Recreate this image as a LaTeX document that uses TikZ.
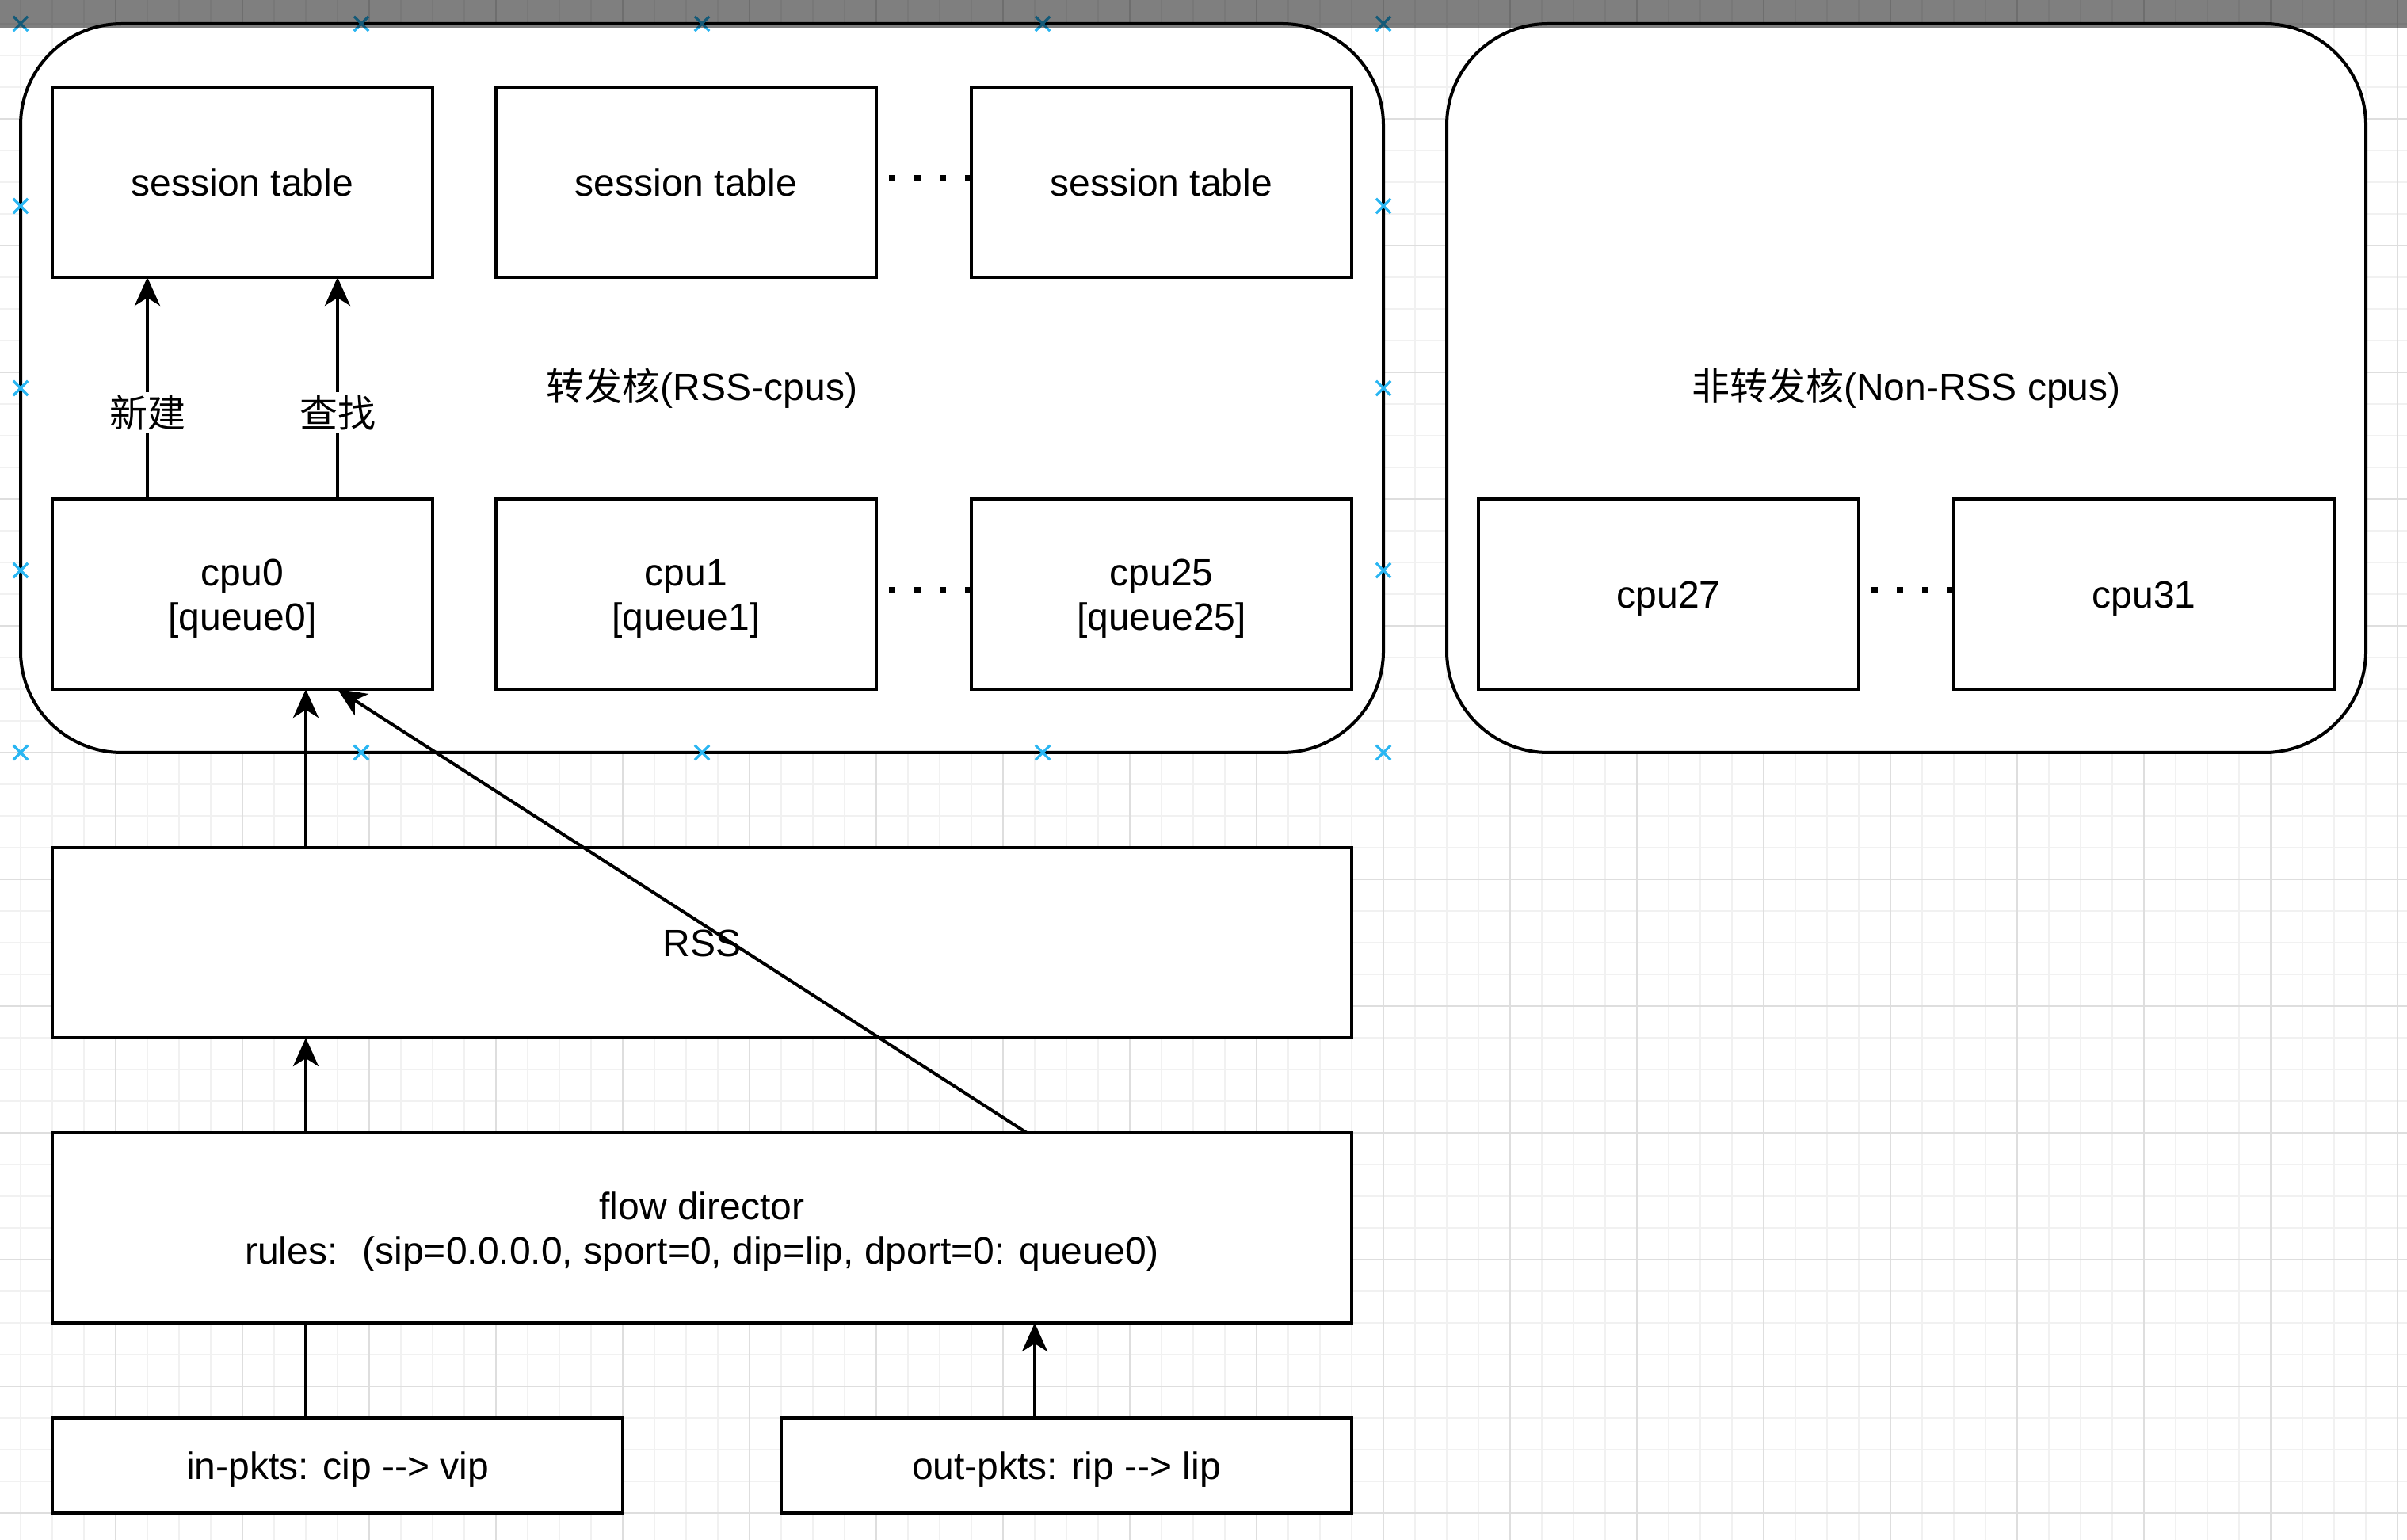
\documentclass[tikz,border=0pt]{standalone}
\usepackage{fontspec}
\setmainfont{Liberation Sans}
\newfontfamily\cjk{Noto Sans CJK SC}
\usetikzlibrary{arrows.meta}
\definecolor{handleblue}{HTML}{29B6F2}
\definecolor{gridmin}{HTML}{F1F1F1}
\definecolor{gridmaj}{HTML}{DEDEDE}
\newcommand{\hstrut}{\rule{0pt}{11.2pt}}

\begin{document}
\begin{tikzpicture}[x=1pt, y=-1pt,
    every node/.style={font=\fontsize{12}{14}\selectfont, align=center},
    boxst/.style={draw, line width=1pt, fill=white, minimum width=120, minimum height=60, inner sep=0pt, outer sep=0pt,
      execute at begin node={\rule{0pt}{11.2pt}}, execute at end node={\rule[-2.6pt]{0pt}{2.6pt}}},
    widebox/.style={boxst, minimum width=410},
    pktbox/.style={boxst, minimum width=180, minimum height=30},
    corebox/.style={draw, line width=1pt, fill=white, rounded corners=32, minimum height=230, inner sep=0pt, outer sep=0pt},
    arrowline/.style={line width=1pt, -{Stealth[length=9pt, width=8pt, inset=2.5pt]}},
    plainline/.style={line width=1pt},
    dotline/.style={line width=2pt, dash pattern=on 2pt off 6pt, dash phase=4pt},
    edgelbl/.style={fill=white, inner sep=1pt, font=\fontsize{12}{14}\selectfont\cjk},
    xmark/.style={handleblue, line width=0.8pt}
  ]
  \useasboundingbox (0,0) rectangle (759.5,486);

  % Grid
  \fill[white] (0,0) rectangle (759.5,486);
  \foreach \gx in {6.5,16.5,...,756.5} \draw[gridmin, line width=0.5pt] (\gx,0) -- (\gx,486);
  \foreach \gy in {7.5,17.5,...,477.5} \draw[gridmin, line width=0.5pt] (0,\gy) -- (759.5,\gy);
  \foreach \gx in {36.5,76.5,...,756.5} \draw[gridmaj, line width=0.5pt] (\gx,0) -- (\gx,486);
  \foreach \gy in {37.5,77.5,...,477.5} \draw[gridmaj, line width=0.5pt] (0,\gy) -- (759.5,\gy);

  % Cores
  \node[corebox, minimum width=430] (rsscores) at (221.5,122.5) {{\cjk 转发核}(RSS-cpus)};
  \node[corebox, minimum width=290] (othercores) at (601.5,122.5) {{\cjk 非转发核}(Non-RSS cpus)};

  % Session tables
  \node[boxst] (st1) at (76.5,57.5) {session table};
  \node[boxst] (st2) at (216.5,57.5) {session table};
  \node[boxst] (st3) at (366.5,57.5) {session table};

  % CPUs
  \node[boxst] (cpu0) at (76.5,187.5) {\hstrut cpu0\\{[queue0]}};
  \node[boxst] (cpu1) at (216.5,187.5) {\hstrut cpu1\\{[queue1]}};
  \node[boxst] (cpu25) at (366.5,187.5) {\hstrut cpu25\\{[queue25]}};
  \node[boxst] (cpu27) at (526.5,187.5) {cpu27};
  \node[boxst] (cpu31) at (676.5,187.5) {cpu31};

  \draw[dotline] ([yshift=1.25]st2.east) -- ([yshift=1.25]st3.west);
  \draw[dotline] ([yshift=1.25]cpu1.east) -- ([yshift=1.25]cpu25.west);
  \draw[dotline] ([yshift=1.25]cpu27.east) -- ([yshift=1.25]cpu31.west);

  \draw[arrowline] ([xshift=-30]cpu0.north) -- ([xshift=-30]st1.south) node[edgelbl, pos=0.39] {新建};
  \draw[arrowline] ([xshift=30]cpu0.north) -- ([xshift=30]st1.south) node[edgelbl, pos=0.39] {查找};

  % NIC
  \node[widebox] (rss) at (221.5,297.5) {RSS};
  \node[widebox] (fd) at (221.5,387.5) {\hstrut flow director\\rules:~ (sip=0.0.0.0, sport=0, dip=lip, dport=0: queue0)};
  \node[pktbox] (inpk) at (106.5,462.5) {in-pkts: cip -{}-{}> vip};
  \node[pktbox] (outpk) at (336.5,462.5) {out-pkts: rip -{}-{}> lip};

  \coordinate (q0) at ([xshift=20]cpu0.south);
  \coordinate (outup) at ([xshift=-10]outpk.north);
  \draw[arrowline] (rss.north -| q0) -- (q0);
  \draw[arrowline] (fd.north -| q0) -- (rss.south -| q0);
  \draw[plainline] (inpk.north -| q0) -- (fd.south -| q0);
  \draw[arrowline] (outup) -- (fd.south -| outup);
  \draw[arrowline] ([xshift=102.5]fd.north) -- ([xshift=30]cpu0.south);

  % Selection handles
  \foreach \mx/\my in {6.5/7.5, 114/7.5, 221.5/7.5, 329/7.5, 436.5/7.5, 6.5/65, 436.5/65, 6.5/122.5, 436.5/122.5, 6.5/180, 436.5/180, 6.5/237.5, 114/237.5, 221.5/237.5, 329/237.5, 436.5/237.5}
    \draw[xmark] (\mx,\my) ++(-2.3,-2.3) -- ++(4.6,4.6) ++(-4.6,0) -- ++(4.6,-4.6);

  % Top bar
  \fill[black, opacity=0.5] (0,0) rectangle (759.5,8.75);
\end{tikzpicture}
\end{document}
